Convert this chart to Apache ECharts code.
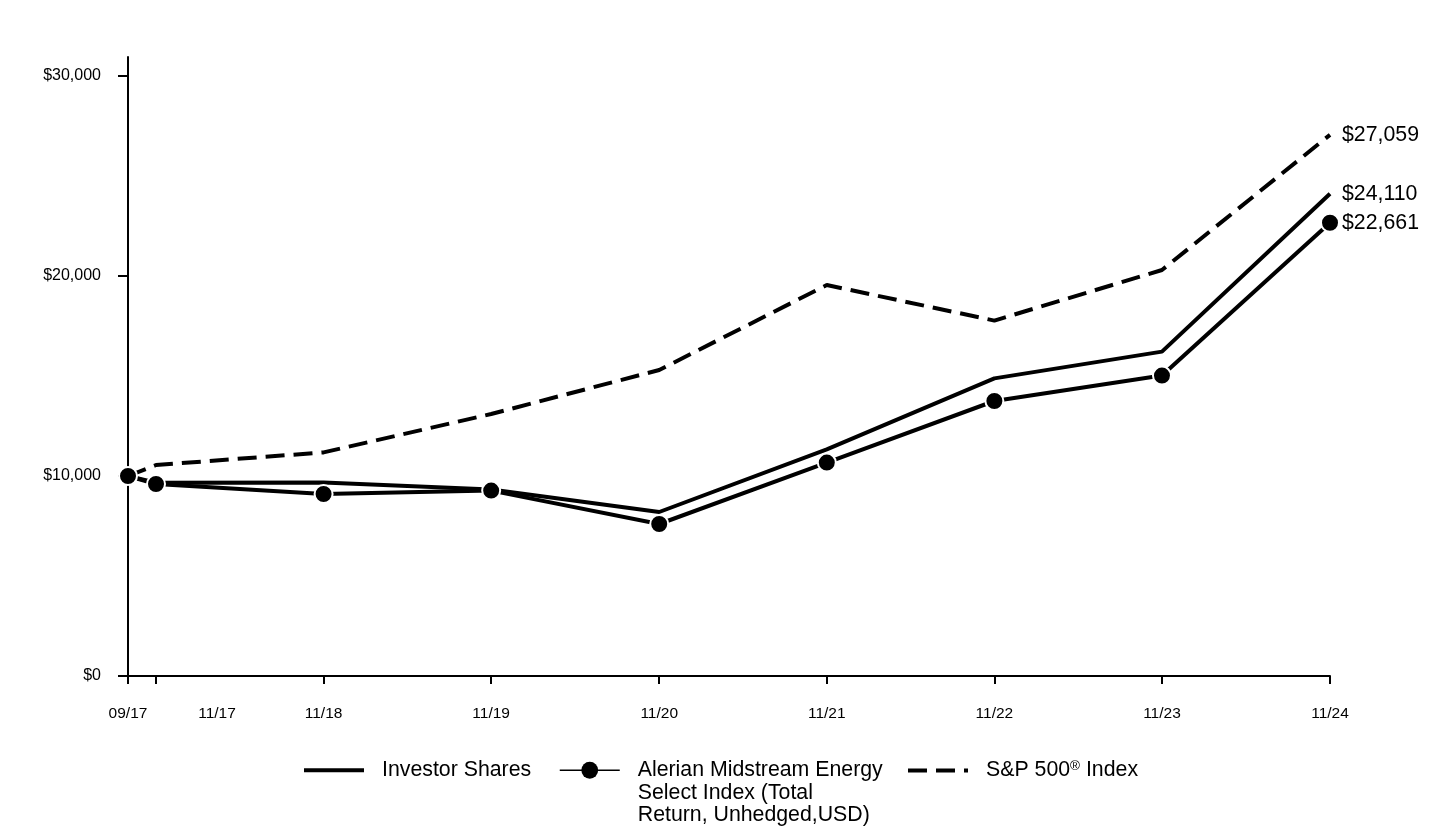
<!DOCTYPE html>
<html>
<head>
<meta charset="utf-8">
<script src="https://cdn.jsdelivr.net/npm/echarts@6/dist/echarts.min.js"></script>
<style>
html,body{margin:0;padding:0;background:#fff;}
#chart{width:1440px;height:840px;}
</style>
</head>
<body>
<div id="chart"></div>
<script>
const dates = ['2017-09-30','2017-11-30','2018-11-30','2019-11-30','2020-11-30','2021-11-30','2022-11-30','2023-11-30','2024-11-30'];
const dateLabels = ['09/17','11/17','11/18','11/19','11/20','11/21','11/22','11/23','11/24'];
const investorShares = [10000, 9660, 9670, 9330, 8200, 11330, 14880, 16220, 24110];
const alerianIndex = [10000, 9600, 9100, 9270, 7600, 10670, 13750, 15020, 22661];
const sp500Index = [10000, 10550, 11180, 13100, 15300, 19550, 17770, 20300, 27059];
const yTicks = [0, 10000, 20000, 30000];
const seriesNames = ['Investor Shares', 'Alerian Midstream Energy\nSelect Index (Total\nReturn, Unhedged,USD)', 'S&P 500® Index'];

const ts = dates.map(d => new Date(d + 'T00:00:00Z').getTime());
const pairs = arr => arr.map((v, i) => [ts[i], v]);
const fmtMoney = v => '$' + Math.round(v).toLocaleString('en-US');
const FONT = 'Arial, "Liberation Sans", sans-serif';
const BIG = 21.3;

const chart = echarts.init(document.getElementById('chart'), null, {renderer: 'canvas'});

const endLabel = {
  show: true,
  formatter: p => fmtMoney(p.value[1]),
  color: '#000',
  fontSize: BIG,
  fontFamily: FONT,
  distance: 12
};

const txt = {color: '#000', fontSize: BIG, fontFamily: FONT, lineHeight: 22.5};
const richT = {
  t: Object.assign({}, txt, {padding: [0, 0, 0, 13]}),
  u: Object.assign({}, txt),
  sup: {color: '#000', fontSize: 13.5, fontFamily: FONT, padding: [0, 0, 9, 0]}
};
const hiddenSymbol = {color: 'rgba(0,0,0,0)', borderColor: 'rgba(0,0,0,0)', borderWidth: 0, opacity: 0};

chart.setOption({
  animation: false,
  backgroundColor: '#fff',
  grid: {left: 128, right: 110, top: 57, bottom: 164, containLabel: false},
  xAxis: {
    type: 'value',
    min: ts[0],
    max: ts[ts.length - 1],
    axisLine: {show: true, lineStyle: {color: '#000', width: 2}},
    axisTick: {show: true, customValues: ts, length: 8, lineStyle: {color: '#000', width: 2}},
    axisLabel: {
      show: true,
      customValues: ts,
      margin: 30,
      color: '#000',
      fontSize: 15.5,
      fontFamily: FONT,
      formatter: v => {
        const i = ts.indexOf(v);
        if (i < 0) return '';
        if (i === 1) return '{shift|' + dateLabels[i] + '}';
        return dateLabels[i];
      },
      rich: {shift: {color: '#000', fontSize: 15.5, fontFamily: FONT, padding: [0, 0, 0, 122]}}
    },
    splitLine: {show: false}
  },
  yAxis: {
    type: 'value',
    min: 0,
    max: 30950,
    axisLine: {show: true, lineStyle: {color: '#000', width: 2}},
    axisTick: {show: true, customValues: yTicks, length: 10, lineStyle: {color: '#000', width: 2}},
    axisLabel: {
      show: true,
      customValues: yTicks,
      margin: 27,
      color: '#000',
      fontSize: 16,
      fontFamily: FONT,
      formatter: v => fmtMoney(v)
    },
    splitLine: {show: false}
  },
  legend: [
    {
      left: 297, top: 754, data: [seriesNames[0]],
      itemWidth: 60, itemHeight: 16, selectedMode: false,
      lineStyle: {width: 4},
      itemStyle: hiddenSymbol,
      formatter: n => '{t|' + n + '}',
      textStyle: Object.assign({}, txt, {rich: richT})
    },
    {
      left: 554, top: 709, data: [seriesNames[1]],
      itemWidth: 60, itemHeight: 21, selectedMode: false,
      lineStyle: {width: 1.5},
      itemStyle: {color: '#000', borderWidth: 0},
      formatter: n => '\n\n' + n,
      textStyle: Object.assign({}, txt, {padding: [0, 0, 0, 13]})
    },
    {
      left: 901, top: 754, data: [seriesNames[2]],
      itemWidth: 60, itemHeight: 16, selectedMode: false,
      lineStyle: {width: 4},
      itemStyle: hiddenSymbol,
      formatter: n => '{t|' + n.replace('®', '}{sup|®}{u|') + '}',
      textStyle: Object.assign({}, txt, {rich: richT})
    }
  ],
  series: [
    {
      name: seriesNames[2],
      type: 'line',
      data: pairs(sp500Index),
      symbol: 'none',
      lineStyle: {color: '#000', width: 4, type: [19, 9]},
      itemStyle: {color: '#000'},
      endLabel: endLabel,
      z: 2
    },
    {
      name: seriesNames[0],
      type: 'line',
      data: pairs(investorShares),
      symbol: 'none',
      lineStyle: {color: '#000', width: 4},
      itemStyle: {color: '#000'},
      endLabel: endLabel,
      z: 3
    },
    {
      name: seriesNames[1],
      type: 'line',
      data: pairs(alerianIndex),
      symbol: 'circle',
      symbolSize: 18,
      showAllSymbol: true,
      lineStyle: {color: '#000', width: 4},
      itemStyle: {color: '#000', borderColor: '#fff', borderWidth: 2},
      endLabel: endLabel,
      z: 4
    }
  ]
});
</script>
</body>
</html>
